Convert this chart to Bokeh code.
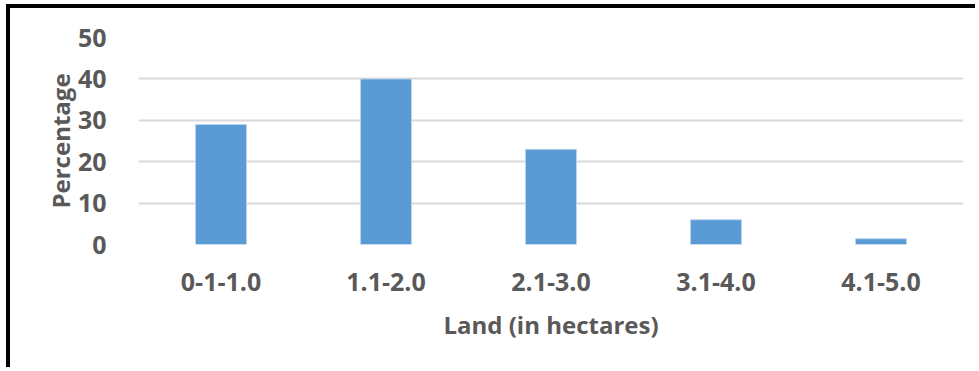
from bokeh.plotting import figure
from bokeh.models import ColumnDataSource, FixedTicker, Range1d
from bokeh.embed import file_html
from bokeh.resources import INLINE

categories = ["0-1-1.0", "1.1-2.0", "2.1-3.0", "3.1-4.0", "4.1-5.0"]
percentages = [29, 40, 23, 6, 1.4]
y_ticks = [0, 10, 20, 30, 40, 50]

FONT = "Open Sans"
TXT = "#595959"

p = figure(x_range=categories, y_range=Range1d(0, 50), width=969, height=363,
           output_backend="svg", toolbar_location=None,
           min_border_left=128, min_border_right=16, min_border_top=29, min_border_bottom=127)
p.margin = (4, 0, 0, 6)
p.styles = {"border-top": "4px solid black", "border-left": "4px solid black"}

src = ColumnDataSource(dict(cat=categories, val=percentages))
p.vbar(x="cat", top="val", width=0.31, source=src, fill_color="#5B9BD5",
       line_color="#BDD7EE", line_width=1)

p.outline_line_color = None
p.xgrid.grid_line_color = None
p.ygrid.grid_line_color = "#D9D9D9"
p.ygrid.grid_line_width = 2
p.yaxis.ticker = FixedTicker(ticks=y_ticks)

for ax in (p.xaxis[0], p.yaxis[0]):
    ax.axis_line_color = None
    ax.major_tick_line_color = None
    ax.minor_tick_line_color = None
    ax.major_label_text_font = FONT
    ax.major_label_text_font_style = "bold"
    ax.major_label_text_color = TXT
    ax.major_label_text_font_size = "25px"
    ax.axis_label_text_font = FONT
    ax.axis_label_text_font_style = "bold"
    ax.axis_label_text_color = TXT
    ax.axis_label_text_font_size = "24px"

p.xaxis.axis_label = "Land (in hectares)"
p.yaxis.axis_label = "Percentage"
p.xaxis.major_label_standoff = 22
p.xaxis.axis_label_standoff = 14
p.yaxis.major_label_standoff = 26
p.yaxis.axis_label_standoff = -2
p.x_range.range_padding = 0.0

open("out.html", "w").write(file_html(p, INLINE))
